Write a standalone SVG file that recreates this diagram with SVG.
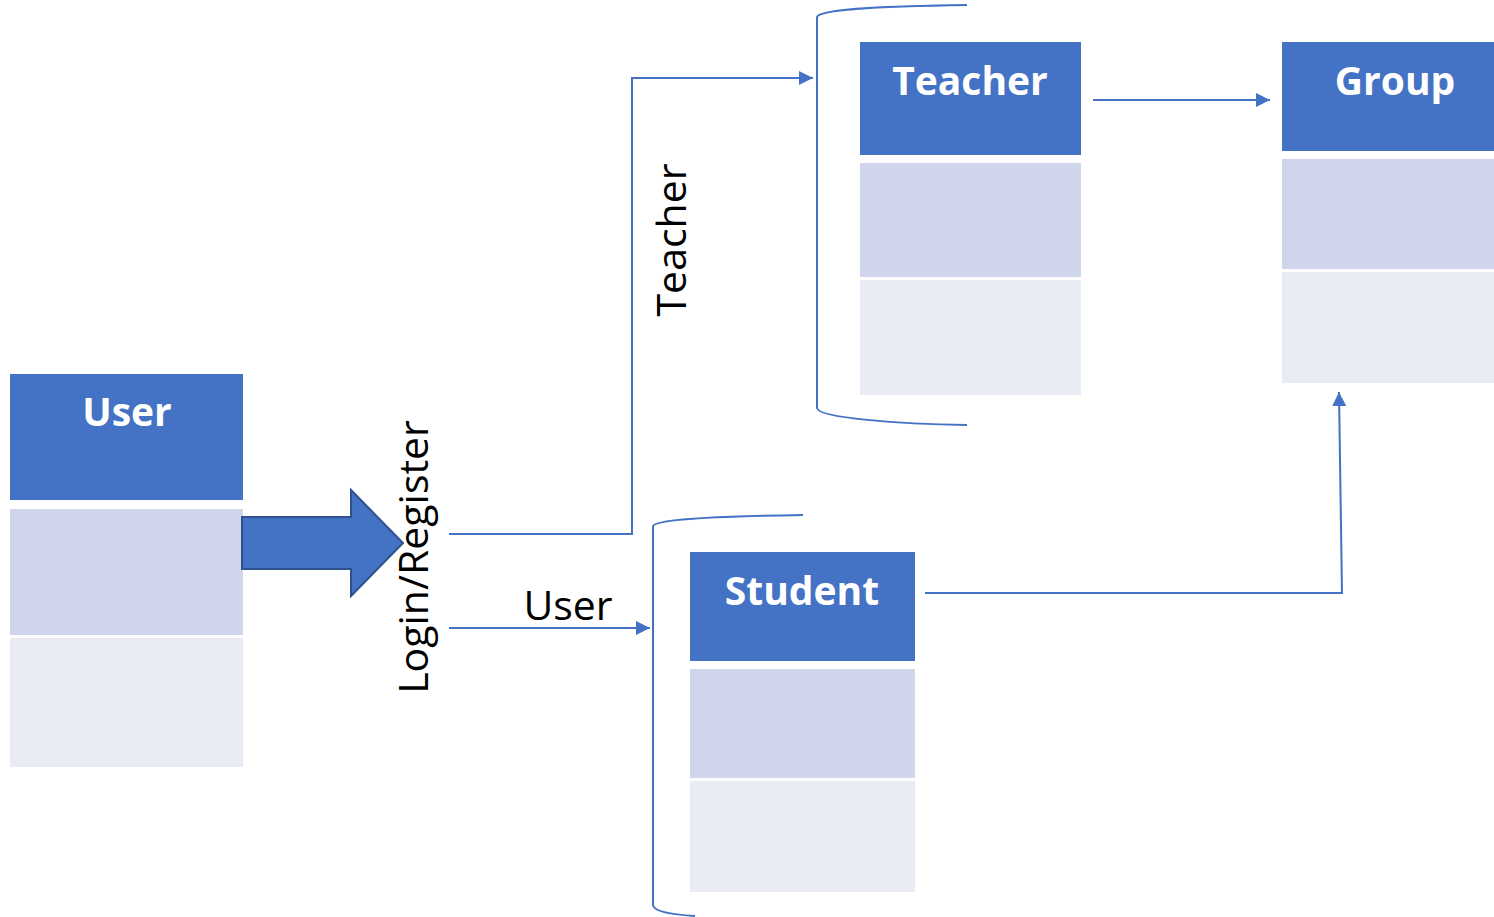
<svg xmlns="http://www.w3.org/2000/svg" width="1494" height="917" viewBox="0 0 1494 917">
<style>
.h{fill:#4472C4}
.m{fill:#CFD5EA}
.b{fill:#E9EBF5}
.ht{font-family:"Open Sans","Liberation Sans",sans-serif;font-weight:bold;font-size:39px;fill:#fff;text-anchor:middle}
.lt{font-family:"Open Sans","Liberation Sans",sans-serif;font-size:41px;fill:#000;text-anchor:middle}
.c{fill:none;stroke:#4472C4;stroke-width:2}
</style>
<defs>
<marker id="a" viewBox="0 0 10 10" refX="10" refY="5" markerWidth="14" markerHeight="14" markerUnits="userSpaceOnUse" orient="auto"><path d="M0,0L10,5L0,10z" fill="#4472C4"/></marker>
</defs>
<rect width="1494" height="917" fill="#fff"/>
<g id="user">
<rect class="h" x="10" y="374" width="233" height="126"/>
<rect class="m" x="10" y="509" width="233" height="126"/>
<rect class="b" x="10" y="638" width="233" height="129"/>
<text class="ht" x="127" y="426">User</text>
</g>
<g id="teacher">
<rect class="h" x="860" y="42" width="221" height="113"/>
<rect class="m" x="860" y="163" width="221" height="114"/>
<rect class="b" x="860" y="280" width="221" height="115"/>
<text class="ht" x="970" y="95">Teacher</text>
</g>
<g id="group">
<rect class="h" x="1282" y="42" width="212" height="109"/>
<rect class="m" x="1282" y="159" width="212" height="110"/>
<rect class="b" x="1282" y="272" width="212" height="111"/>
<text class="ht" x="1395" y="95">Group</text>
</g>
<g id="student">
<rect class="h" x="690" y="552" width="225" height="109"/>
<rect class="m" x="690" y="669" width="225" height="109"/>
<rect class="b" x="690" y="781" width="225" height="111"/>
<text class="ht" x="802" y="605">Student</text>
</g>
<g id="login-arrow">
<path d="M242,517H351V490L403,543L351,596V569H242Z" fill="#4472C4" stroke="#2F528F" stroke-width="2"/>
</g>
<g id="brackets">
<path class="c" d="M967,5C900,6 820,8 817,17V408C818,418 900,424 967,425"/>
<path class="c" d="M803,515C740,516 656,518 653,526V905C654,913 680,915 695,916"/>
</g>
<g id="connectors">
<path class="c" d="M449,534H632V78H813" marker-end="url(#a)"/>
<path class="c" d="M449,628H650" marker-end="url(#a)"/>
<path class="c" d="M1093,100H1270" marker-end="url(#a)"/>
<path class="c" d="M925,593H1342"/>
<path class="c" d="M1342,594L1339,392" marker-end="url(#a)"/>
</g>
<g id="labels">
<text class="lt" transform="translate(428,557) rotate(-90)">Login/Register</text>
<text class="lt" transform="translate(686,240) rotate(-90)">Teacher</text>
<text class="lt" x="568" y="620">User</text>
</g>
</svg>
